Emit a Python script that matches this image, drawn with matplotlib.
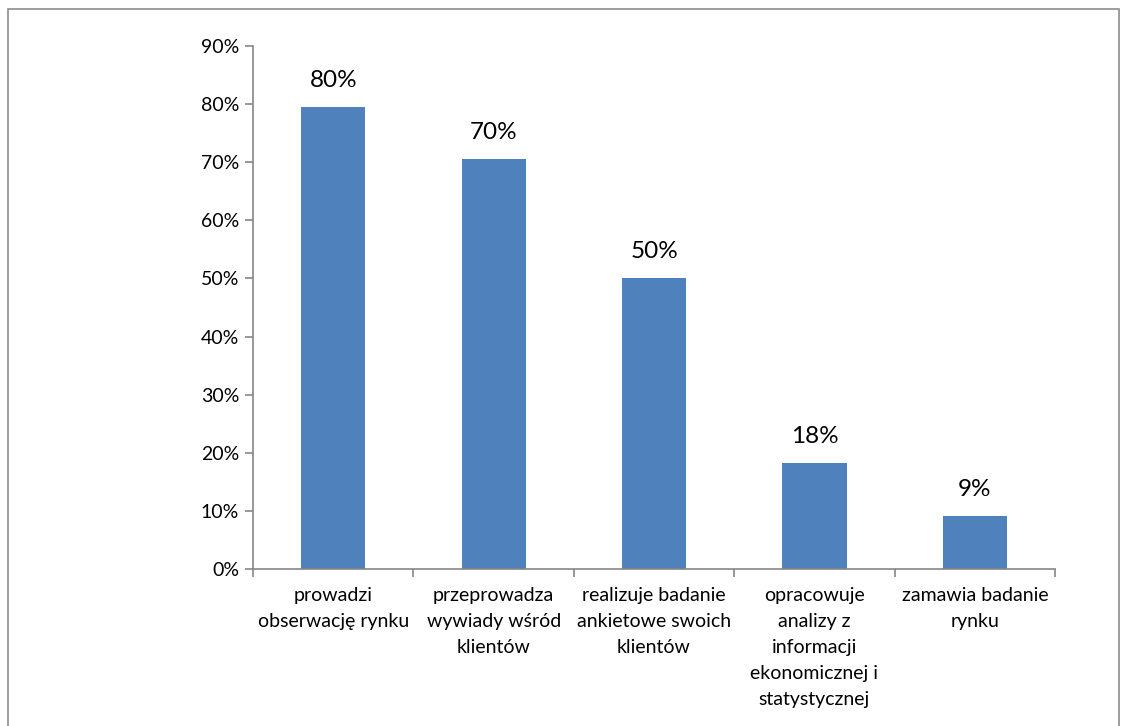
import matplotlib
matplotlib.use('Agg')
import matplotlib.pyplot as plt
from matplotlib.ticker import FuncFormatter, FixedLocator

plt.rcParams['font.family'] = ['Lato', 'DejaVu Sans']

# data
categories = ['prowadzi\nobserwację rynku',
              'przeprowadza\nwywiady wśród\nklientów',
              'realizuje badanie\nankietowe swoich\nklientów',
              'opracowuje\nanalizy z\ninformacji\nekonomicznej i\nstatystycznej',
              'zamawia badanie\nrynku']
values = [0.795, 0.705, 0.50, 0.182, 0.091]
labels = ['80%', '70%', '50%', '18%', '9%']

fig = plt.figure(figsize=(11.26, 7.26), dpi=100)
ax = fig.add_axes([0.2247, 0.2163, 0.7123, 0.7203])

# outer frame
fig.add_artist(plt.Rectangle((0.0075, -0.01), 0.986, 0.998, transform=fig.transFigure,
                             fill=False, edgecolor='#8c8c8c', linewidth=1.2))

x = list(range(len(values)))
bars = ax.bar(x, values, width=0.4, color='#4F81BD', zorder=2)
for b, lab in zip(bars, labels):
    ax.text(b.get_x() + b.get_width() / 2, b.get_height() + 0.028, lab,
            ha='center', va='bottom', fontsize=17.5)

ax.set_ylim(0, 0.9)
ax.set_xlim(-0.5, len(values) - 0.5)
ax.set_yticks([i / 10 for i in range(10)])
ax.yaxis.set_major_formatter(FuncFormatter(lambda v, p: f'{v * 100:.0f}%'))

ax.xaxis.set_major_locator(FixedLocator([i - 0.5 for i in range(len(values) + 1)]))
ax.xaxis.set_major_formatter(FuncFormatter(lambda v, p: ''))
ax.xaxis.set_minor_locator(FixedLocator(x))
ax.set_xticklabels(categories, minor=True, fontsize=14, linespacing=1.65, va='top')
ax.tick_params(axis='x', which='minor', length=0, pad=13)
ax.tick_params(axis='x', which='major', length=6, color='#868686', width=1.2)
ax.tick_params(axis='y', length=6, color='#868686', width=1.2, labelsize=14, pad=4)

for s in ['top', 'right']:
    ax.spines[s].set_visible(False)
for s in ['left', 'bottom']:
    ax.spines[s].set_color('#868686')
    ax.spines[s].set_linewidth(1.2)

fig.savefig('out.png', dpi=100)
